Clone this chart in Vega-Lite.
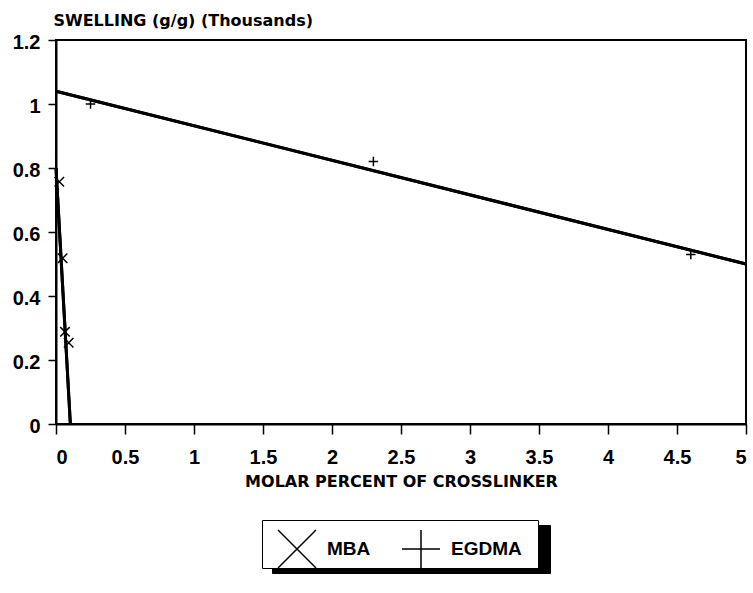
{
  "$schema": "https://vega.github.io/schema/vega-lite/v6.json",
  "width": 690,
  "height": 384,
  "autosize": {"type": "none"},
  "padding": {"left": 56, "top": 40, "right": 7, "bottom": 169},
  "background": "white",
  "config": {
    "view": {"stroke": "black", "strokeWidth": 2},
    "axis": {
      "grid": false,
      "domainColor": "black",
      "domainWidth": 2,
      "tickColor": "black",
      "tickWidth": 1.5,
      "labelFont": "Liberation Sans",
      "labelFontWeight": "bold",
      "labelFontSize": 20,
      "labelColor": "black",
      "titleFont": "DejaVu Sans",
      "titleFontWeight": "bold",
      "titleFontSize": 16,
      "titleColor": "black"
    },
    "legend": {
      "orient": "none",
      "direction": "horizontal",
      "labelFont": "Liberation Sans",
      "labelFontWeight": "bold",
      "labelFontSize": 19,
      "labelColor": "black",
      "labelOffset": 10,
      "symbolSize": 1444,
      "symbolStrokeWidth": 1.5,
      "columnPadding": 43
    }
  },
  "resolve": {
    "scale": {"color": "independent", "shape": "independent"},
    "legend": {"color": "independent", "shape": "independent"}
  },
  "datasets": {
    "fits": [
      {"series": "MBA", "x": 0, "y": 0.8},
      {"series": "MBA", "x": 0.104, "y": 0},
      {"series": "EGDMA", "x": 0, "y": 1.04},
      {"series": "EGDMA", "x": 5, "y": 0.5}
    ],
    "mba": [
      {"series": "MBA", "x": 0.024, "y": 0.757},
      {"series": "MBA", "x": 0.048, "y": 0.518},
      {"series": "MBA", "x": 0.065, "y": 0.288},
      {"series": "MBA", "x": 0.092, "y": 0.254}
    ],
    "egdma": [
      {"series": "EGDMA", "x": 0.25, "y": 1.0},
      {"series": "EGDMA", "x": 2.3, "y": 0.82},
      {"series": "EGDMA", "x": 4.6, "y": 0.53}
    ]
  },
  "layer": [
    {
      "data": {"name": "fits"},
      "mark": {"type": "line", "strokeWidth": 3},
      "encoding": {
        "x": {"field": "x", "type": "quantitative", "scale": {"domain": [0, 5], "nice": false},
          "axis": {"values": [0, 0.5, 1, 1.5, 2, 2.5, 3, 3.5, 4, 4.5, 5], "format": "~g", "tickSize": 10, "labelPadding": 13,
            "title": "MOLAR PERCENT OF CROSSLINKER", "titlePadding": 6}},
        "y": {"field": "y", "type": "quantitative", "scale": {"domain": [0, 1.2], "nice": false},
          "axis": {"values": [0, 0.2, 0.4, 0.6, 0.8, 1, 1.2], "format": "~g", "tickSize": 8, "labelPadding": 8, "labelOffset": 2,
            "title": "SWELLING (g/g) (Thousands)", "titleAngle": 0, "titleAlign": "left", "titleBaseline": "alphabetic",
            "titleX": -3, "titleY": -15}},
        "color": {
          "field": "series", "type": "nominal",
          "scale": {"domain": ["MBA", "EGDMA"], "range": ["black", "black"]},
          "legend": {
            "legendX": 216,
            "legendY": 485,
            "title": null,
            "padding": 9,
            "strokeColor": "black",
            "fillColor": "black"
          }
        }
      }
    },
    {
      "data": {"name": "fits"},
      "mark": {"type": "line", "strokeWidth": 3},
      "encoding": {
        "x": {"field": "x", "type": "quantitative"},
        "y": {"field": "y", "type": "quantitative"},
        "color": {
          "field": "series", "type": "nominal",
          "scale": {"domain": ["MBA", "EGDMA"], "range": ["black", "black"]},
          "legend": {
            "legendX": 206,
            "legendY": 480,
            "title": null,
            "padding": 9,
            "strokeColor": "black",
            "fillColor": "white",
            "symbolOpacity": 0,
            "labelOpacity": 0
          }
        }
      }
    },
    {
      "data": {"name": "mba"},
      "mark": {"type": "point", "filled": false, "strokeWidth": 1.5, "size": 90, "opacity": 1},
      "encoding": {
        "x": {"field": "x", "type": "quantitative"},
        "y": {"field": "y", "type": "quantitative"},
        "shape": {
          "field": "series", "type": "nominal",
          "scale": {"domain": ["MBA"], "range": ["M-1,-1L1,1M-1,1L1,-1"]},
          "legend": null
        },
        "color": {
          "field": "series", "type": "nominal",
          "scale": {"domain": ["MBA"], "range": ["black"]},
          "legend": {
            "legendX": 221,
            "legendY": 489,
            "title": null,
            "padding": 0,
            "symbolType": "M-0.85,0L0.85,0M-0.2,-0.22L0.2,0.22M-0.2,0.22L0.2,-0.22"
          }
        }
      }
    },
    {
      "data": {"name": "egdma"},
      "mark": {"type": "point", "filled": false, "strokeWidth": 1.5, "size": 90, "opacity": 1},
      "encoding": {
        "x": {"field": "x", "type": "quantitative"},
        "y": {"field": "y", "type": "quantitative"},
        "shape": {
          "field": "series", "type": "nominal",
          "scale": {"domain": ["EGDMA"], "range": ["M-1,0L1,0M0,-1L0,1"]},
          "legend": null
        },
        "color": {
          "field": "series", "type": "nominal",
          "scale": {"domain": ["EGDMA"], "range": ["black"]},
          "legend": {
            "legendX": 345,
            "legendY": 489,
            "title": null,
            "padding": 0,
            "symbolType": "M-1.3,0L1.3,0M0,-0.3L0,0.3"
          }
        }
      }
    }
  ]
}
